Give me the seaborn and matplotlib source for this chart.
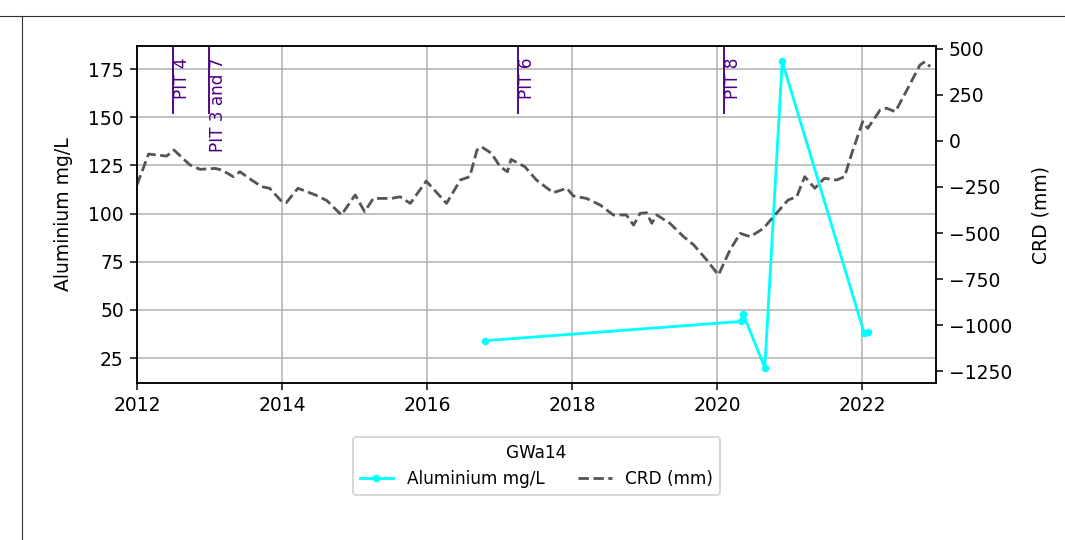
import matplotlib
matplotlib.use("Agg")
import matplotlib.pyplot as plt
import matplotlib.transforms as mtransforms
from matplotlib.lines import Line2D
import seaborn as sns

# aluminium samples (decimal year, mg/L)
al_dates = [2016.80, 2020.33, 2020.36, 2020.66, 2020.90, 2022.03, 2022.08]
al_values = [34, 44, 48, 20, 179, 38, 38.5]

# CRD (mm)
crd_dates = [2012.00, 2012.16, 2012.41, 2012.51, 2012.73, 2012.87, 2013.08, 2013.17,
             2013.33, 2013.42, 2013.58, 2013.72, 2013.83, 2014.00, 2014.06, 2014.22,
             2014.46, 2014.62, 2014.82, 2015.01, 2015.14, 2015.26, 2015.51, 2015.63,
             2015.77, 2015.99, 2016.27, 2016.46, 2016.59, 2016.69, 2016.75, 2016.89,
             2017.01, 2017.11, 2017.16, 2017.35, 2017.51, 2017.74, 2017.93, 2018.02,
             2018.20, 2018.39, 2018.57, 2018.75, 2018.85, 2018.94, 2019.03, 2019.10,
             2019.17, 2019.35, 2019.54, 2019.68, 2019.86, 2020.02, 2020.18, 2020.32,
             2020.46, 2020.64, 2020.80, 2020.98, 2021.10, 2021.21, 2021.35, 2021.48,
             2021.65, 2021.76, 2021.86, 2022.01, 2022.08, 2022.25, 2022.34, 2022.46,
             2022.62, 2022.80, 2022.87, 2022.94]
crd_values = [-239, -71, -82, -49, -130, -154, -149, -158,
              -194, -167, -212, -248, -257, -330, -335, -257,
              -293, -324, -402, -293, -384, -312, -312, -303,
              -339, -218, -339, -212, -194, -49, -31, -67,
              -140, -167, -100, -140, -212, -281, -257, -299,
              -312, -348, -402, -402, -457, -393, -390, -447,
              -402, -447, -520, -565, -647, -728, -592, -502,
              -520, -475, -402, -321, -303, -194, -257, -203,
              -212, -194, -67, 105, 69, 168, 178, 159,
              277, 413, 431, 404]

# mining events
pit_dates = [2012.5, 2013.0, 2017.25, 2020.1]
pit_labels = ["PIT 4", "PIT 3 and 7", "PIT 6", "PIT 8"]

fig = plt.figure(figsize=(1065 / 135, 540 / 135), dpi=135)
ax = fig.add_axes([0.1286, 0.2907, 0.7502, 0.6241])
ax2 = ax.twinx()

sns.lineplot(x=al_dates, y=al_values, ax=ax, color="cyan", marker="o",
             markersize=4, markeredgewidth=0, label="Aluminium mg/L", legend=False)
sns.lineplot(x=crd_dates, y=crd_values, ax=ax2, color="#555555", linestyle="--",
             label="CRD (mm)", legend=False)

trans = mtransforms.blended_transform_factory(ax.transData, ax.transAxes)
for d, lab in zip(pit_dates, pit_labels):
    ax.axvline(d, ymin=0.8, ymax=1.0, color="indigo", lw=1.0)
    ax.text(d, 0.965, lab, transform=trans, rotation=90, va="top", ha="left",
            color="indigo", fontsize=9)

ax.set_xlim(2012, 2023.02)
ax.set_xticks([2012, 2014, 2016, 2018, 2020, 2022])
ax.set_xticklabels(["2012", "2014", "2016", "2018", "2020", "2022"])
ax.set_ylabel("Aluminium mg/L", labelpad=8)
ax.grid(True)
ax2.set_ylim(-1315, 516)
ax2.set_yticks([500, 250, 0, -250, -500, -750, -1000, -1250])
ax2.set_ylabel("CRD (mm)", labelpad=10)

h1, l1 = ax.get_legend_handles_labels()
h2, l2 = ax2.get_legend_handles_labels()
ax.legend(h1 + h2, l1 + l2, title="GWa14", ncol=2, loc="upper center",
          bbox_to_anchor=(0.5, -0.135), fontsize=9, title_fontsize=9)

# notebook cell border
fig.add_artist(Line2D([0, 1], [0.970, 0.970], color="#333333", lw=0.6,
                      transform=fig.transFigure))
fig.add_artist(Line2D([0.0207, 0.0207], [0, 0.970], color="#333333", lw=0.6,
                      transform=fig.transFigure))

fig.savefig("out.png", dpi=135)
